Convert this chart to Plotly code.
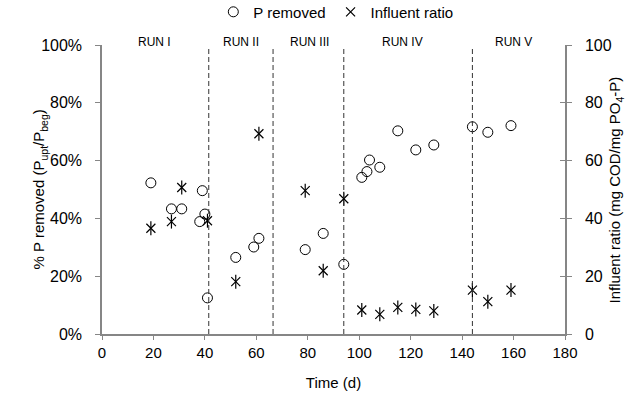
import plotly.graph_objects as go

# ---- data ----
p_time = [19, 27, 31, 38, 39, 40, 41, 52, 59, 61, 79, 86, 94, 101, 103, 104, 108, 115, 122, 129, 144, 150, 159]
p_removed = [52.3, 43.3, 43.3, 38.9, 49.6, 41.5, 12.5, 26.5, 30.1, 33.1, 29.2, 34.8, 24.1,
             54.2, 56.2, 60.2, 57.7, 70.3, 63.7, 65.4, 71.7, 69.8, 72.1]

r_time = [19, 27, 31, 41, 52, 61, 79, 86, 94, 101, 108, 115, 122, 129, 144, 150, 159]
influent_ratio = [36.6, 38.9, 50.7, 39.2, 18.1, 69.3, 49.6, 21.9, 46.8,
                  8.3, 6.8, 9.2, 8.5, 8.0, 15.2, 11.2, 15.2]

run_boundaries = [41.5, 66.5, 94, 144]
run_labels = ["RUN I", "RUN II", "RUN III", "RUN IV", "RUN V"]
run_label_x = [20.6, 54, 80.5, 117, 160]

x_ticks = [0, 20, 40, 60, 80, 100, 120, 140, 160, 180]
y_ticks = [0, 20, 40, 60, 80, 100]
y_left_ticktext = ["0%", "20%", "40%", "60%", "80%", "100%"]
y_right_ticktext = ["0", "20", "40", "60", "80", "100"]

left_title = "% P removed (P<sub>upt</sub>/P<sub>beg</sub>)"
right_title = "Influent ratio (mg COD/mg PO<sub>4</sub>-P)"

FONT = "Liberation Sans, Arial, sans-serif"
AXIS_COLOR = "#868686"

fig = go.Figure()

fig.add_trace(go.Scatter(
    x=p_time, y=p_removed, mode="markers", name="P removed",
    marker=dict(symbol="circle-open", size=10, color="black", line=dict(width=1, color="black")),
))
fig.add_trace(go.Scatter(
    x=r_time, y=influent_ratio, mode="markers", name="Influent ratio", yaxis="y2",
    marker=dict(symbol="x-thin-open", size=9, color="black", line=dict(width=1.2, color="black")),
))
fig.add_trace(go.Scatter(
    x=r_time, y=influent_ratio, mode="markers", name="Influent ratio", yaxis="y2",
    showlegend=False, hoverinfo="skip",
    marker=dict(symbol="line-ns-open", size=10, color="black", line=dict(width=1.2, color="black")),
))
# empty trace so the inner-tick axis is drawn
fig.add_trace(go.Scatter(x=[0], y=[-50], yaxis="y3", mode="markers", showlegend=False,
                         hoverinfo="skip", marker=dict(opacity=0)))

for xb in run_boundaries:
    fig.add_shape(type="line", xref="x", yref="y", x0=xb, x1=xb, y0=0, y1=99,
                  line=dict(color="#333333", width=1, dash="5px,3px"))

for lab, lx in zip(run_labels, run_label_x):
    fig.add_annotation(x=lx, y=1.01, xref="x", yref="paper", text=lab, showarrow=False,
                       font=dict(family=FONT, size=12, color="black"), yanchor="middle")

# axis titles
fig.add_annotation(x=-0.134, y=0.5, xref="paper", yref="paper", text=left_title,
                   textangle=-90, showarrow=False, xanchor="center", yanchor="middle",
                   font=dict(family=FONT, size=15, color="black"))
fig.add_annotation(x=1.110, y=0.5, xref="paper", yref="paper", text=right_title,
                   textangle=-90, showarrow=False, xanchor="center", yanchor="middle",
                   font=dict(family=FONT, size=15, color="black"))

fig.update_layout(
    width=631, height=405,
    margin=dict(l=102, r=66, t=45, b=71, autoexpand=False),
    paper_bgcolor="white", plot_bgcolor="white",
    font=dict(family=FONT, size=15, color="black"),
    showlegend=True,
    legend=dict(orientation="h", x=0.505, y=1.114, xanchor="center", yanchor="middle",
                font=dict(family=FONT, size=15, color="black"), bgcolor="rgba(0,0,0,0)",
                itemwidth=30, tracegroupgap=0),
    xaxis=dict(range=[0, 180], tickvals=x_ticks, showgrid=False, zeroline=False,
               showline=True, linecolor=AXIS_COLOR, linewidth=1.5,
               ticks="outside", ticklen=4, tickcolor=AXIS_COLOR,
               title=dict(text="Time (d)", standoff=18, font=dict(size=15)),
               automargin=False),
    yaxis=dict(range=[0, 100], tickvals=y_ticks, ticktext=y_left_ticktext, showgrid=False,
               zeroline=False, showline=True, linecolor=AXIS_COLOR, linewidth=1.5,
               ticks="outside", ticklen=5, tickcolor=AXIS_COLOR, ticklabelstandoff=10,
               tickfont=dict(size=16), automargin=False),
    yaxis2=dict(range=[0, 100], tickvals=y_ticks, ticktext=y_right_ticktext, overlaying="y",
                side="right", showgrid=False,
                zeroline=False, showline=True, linecolor=AXIS_COLOR, linewidth=1.5,
                ticks="outside", ticklen=5, tickcolor=AXIS_COLOR, ticklabelstandoff=10,
                tickfont=dict(size=16), automargin=False),
    yaxis3=dict(range=[0, 100], tickvals=y_ticks, overlaying="y", side="right",
                showgrid=False, zeroline=False, showline=False, showticklabels=False,
                ticks="inside", ticklen=5, tickcolor=AXIS_COLOR, automargin=False),
)

fig.write_html("out.html")
